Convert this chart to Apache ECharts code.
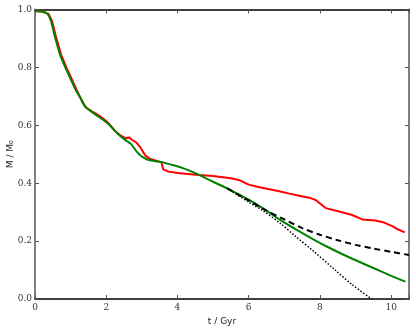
<!DOCTYPE html>
<html>
<head>
<meta charset="utf-8">
<script src="https://cdn.jsdelivr.net/npm/echarts@6/dist/echarts.min.js"></script>
<style>html,body{margin:0;padding:0;background:#fff}#c{width:416px;height:329px}</style>
</head>
<body>
<div id="c"></div>
<script>
// Data
var xTicks = [0, 2, 4, 6, 8, 10];
var yTicks = [0.0, 0.2, 0.4, 0.6, 0.8, 1.0];

var tRed = [0, 0.2, 0.38, 0.48, 0.58, 0.73, 0.88, 1.03, 1.18, 1.33, 1.44, 1.6, 1.82, 2.0, 2.1, 2.25, 2.4, 2.55, 2.65, 2.72, 2.85, 2.95, 3.1, 3.22, 3.4, 3.55, 3.6, 3.75, 4.06, 4.6, 5.0, 5.5, 5.75, 6.0, 6.3, 6.58, 6.86, 7.14, 7.42, 7.7, 7.88, 8.0, 8.16, 8.54, 8.9, 9.19, 9.56, 9.8, 10.03, 10.2, 10.38];
var mRed = [0.995, 0.993, 0.985, 0.96, 0.91, 0.845, 0.8, 0.76, 0.72, 0.68, 0.66, 0.648, 0.632, 0.615, 0.602, 0.58, 0.565, 0.555, 0.558, 0.55, 0.54, 0.525, 0.495, 0.485, 0.478, 0.472, 0.448, 0.44, 0.434, 0.428, 0.425, 0.417, 0.41, 0.395, 0.386, 0.379, 0.372, 0.364, 0.357, 0.35, 0.342, 0.33, 0.314, 0.302, 0.29, 0.275, 0.271, 0.264, 0.252, 0.24, 0.23];

var tGreen = [0, 0.2, 0.35, 0.45, 0.55, 0.7, 0.85, 1.0, 1.15, 1.3, 1.4, 1.5, 1.7, 1.9, 2.1, 2.25, 2.4, 2.55, 2.7, 2.85, 3.0, 3.15, 3.35, 3.6, 3.8, 4.06, 4.3, 4.62, 5.0, 5.46, 6.0, 6.5, 6.86, 7.3, 7.8, 8.26, 8.8, 9.5, 10.0, 10.4];
var mGreen = [0.995, 0.993, 0.985, 0.96, 0.91, 0.845, 0.8, 0.76, 0.72, 0.69, 0.665, 0.655, 0.637, 0.62, 0.6, 0.58, 0.562, 0.548, 0.535, 0.51, 0.492, 0.482, 0.477, 0.472, 0.465, 0.456, 0.445, 0.428, 0.405, 0.378, 0.343, 0.305, 0.275, 0.242, 0.207, 0.177, 0.145, 0.107, 0.08, 0.06];

var tDashed = [5.4, 6.0, 6.5, 7.0, 7.5, 8.0, 8.5, 9.0, 9.5, 10.0, 10.5];
var mDashed = [0.382, 0.34, 0.305, 0.275, 0.245, 0.222, 0.203, 0.187, 0.174, 0.163, 0.152];

var tDotted = [5.4, 6.0, 6.4, 6.9, 7.3, 7.8, 8.4, 8.9, 9.45];
var mDotted = [0.382, 0.335, 0.305, 0.26, 0.218, 0.167, 0.103, 0.05, 0.0];

function pairs(t, m) { return t.map(function (v, i) { return [v, m[i]]; }); }

var chart = echarts.init(document.getElementById('c'), null, {renderer: 'canvas'});
var tickStyle = {show: true, inside: true, length: 4, lineStyle: {color: '#555', width: 1}};
var serif = 'DejaVu Serif';
chart.setOption({
  animation: false,
  backgroundColor: '#fff',
  grid: {left: 35, right: 7, top: 9.5, bottom: 30, containLabel: false, outerBoundsMode: 'none'},
  xAxis: [{
    type: 'value', min: 0, max: 10.5, interval: 2, position: 'bottom',
    name: 't / Gyr', nameLocation: 'middle', nameGap: 18, nameMoveOverlap: false,
    nameTextStyle: {fontFamily: 'DejaVu Sans', fontSize: 9, color: '#222'},
    axisLine: {show: true, onZero: false, lineStyle: {color: '#000', width: 1.5}},
    axisTick: tickStyle,
    axisLabel: {fontFamily: serif, fontSize: 9, color: '#333', margin: 4,
      formatter: function (v) { return xTicks.indexOf(v) >= 0 ? String(v) : ''; }},
    splitLine: {show: false}
  }, {
    type: 'value', min: 0, max: 10.5, interval: 2, position: 'top',
    axisLine: {show: true, onZero: false, lineStyle: {color: '#000', width: 1.5}},
    axisTick: tickStyle, axisLabel: {show: false}, splitLine: {show: false}
  }],
  yAxis: [{
    type: 'value', min: 0, max: 1.0, interval: 0.2, position: 'left',
    name: 'M / M\u2080', nameLocation: 'middle', nameGap: 20, nameMoveOverlap: false,
    nameTextStyle: {fontFamily: 'DejaVu Sans', fontSize: 9, color: '#222'},
    axisLine: {show: true, onZero: false, lineStyle: {color: '#808080', width: 2}},
    axisTick: tickStyle,
    axisLabel: {fontFamily: serif, fontSize: 9, color: '#333', margin: 3,
      formatter: function (v) { return v.toFixed(1); }},
    splitLine: {show: false}
  }, {
    type: 'value', min: 0, max: 1.0, interval: 0.2, position: 'right',
    axisLine: {show: true, onZero: false, lineStyle: {color: '#808080', width: 2}},
    axisTick: tickStyle, axisLabel: {show: false}, splitLine: {show: false}
  }],
  series: [
    {type: 'line', xAxisIndex: 0, yAxisIndex: 0, data: pairs(tRed, mRed), showSymbol: false, symbol: 'none',
      lineStyle: {color: '#ff0000', width: 2}, z: 2},
    {type: 'line', xAxisIndex: 0, yAxisIndex: 0, data: pairs(tGreen, mGreen), showSymbol: false, symbol: 'none', smooth: 0.2,
      lineStyle: {color: '#008000', width: 2}, z: 3},
    {type: 'line', xAxisIndex: 0, yAxisIndex: 0, data: pairs(tDashed, mDashed), showSymbol: false, symbol: 'none', smooth: 0.3,
      lineStyle: {color: '#000', width: 2, type: [6, 4]}, z: 4},
    {type: 'line', xAxisIndex: 0, yAxisIndex: 0, data: pairs(tDotted, mDotted), showSymbol: false, symbol: 'none', smooth: 0.3,
      lineStyle: {color: '#000', width: 1.5, type: [1.5, 1.8]}, z: 5}
  ]
});
</script>
</body>
</html>
